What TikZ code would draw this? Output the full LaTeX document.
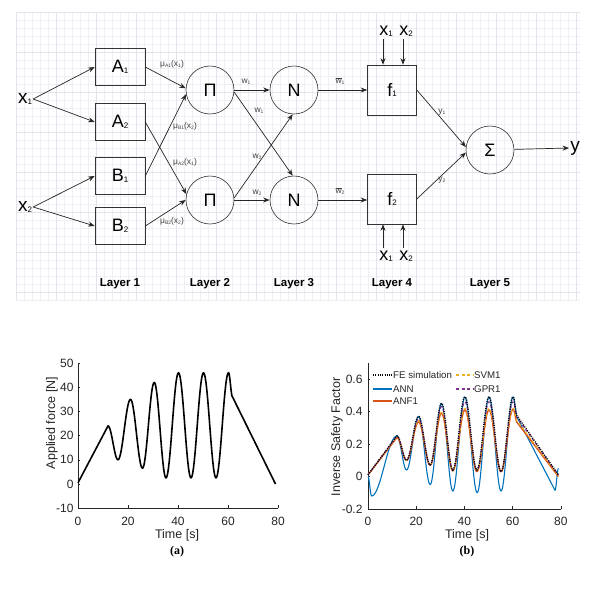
\documentclass[tikz,border=0pt]{standalone}
\usepackage{fontspec}
\setmainfont{Liberation Sans}
\newfontfamily\capfont{Liberation Serif}
\usetikzlibrary{arrows.meta}
\definecolor{gridc}{RGB}{238,239,244}
\definecolor{gridd}{RGB}{226,228,236}
\definecolor{axc}{RGB}{38,38,38}
\definecolor{mblue}{rgb}{0,0.447,0.741}
\definecolor{morange}{rgb}{0.85,0.325,0.098}
\definecolor{myellow}{rgb}{0.929,0.694,0.125}
\definecolor{mpurple}{rgb}{0.494,0.184,0.556}
\newcommand\fs[1]{\fontsize{#1}{#1}\selectfont}
\newcommand\sbig[1]{\raisebox{-0.05em}{\fontsize{8}{8}\selectfont #1}}
\newcommand\ssml[1]{\raisebox{-0.1em}{\fontsize{5}{5}\selectfont #1}}
\begin{document}
\begin{tikzpicture}[x=1pt,y=-1pt,
  arr/.style={-{Stealth[length=6.5pt,width=5pt]}, line width=0.7pt, draw=black!85},
  boxn/.style={draw=black!80, line width=0.6pt, minimum width=50pt, minimum height=37pt, inner sep=0pt, font=\fs{18}},
  circn/.style={draw=black!80, line width=0.6pt, circle, minimum size=48pt, inner sep=0pt, font=\fs{18}},
  lbl/.style={font=\fs{8.5}, text=black!75, inner sep=0pt},
  var/.style={font=\fs{19}, inner sep=1pt},
  layer/.style={font=\bfseries\fs{11.5}},
  tick/.style={font=\fs{12}, text=axc},
  axis/.style={draw=axc, line width=0.6pt},
  fe/.style={draw=black, line width=1.4pt, dash pattern=on 1pt off 1.3pt},
  ann/.style={draw=mblue, line width=1.1pt},
  anf/.style={draw=morange, line width=1.4pt},
  svm/.style={draw=myellow, line width=1.1pt, dash pattern=on 3pt off 2.5pt},
  gpr/.style={draw=mpurple, line width=1.1pt, dash pattern=on 3pt off 2.5pt}]
\useasboundingbox (0,0) rectangle (600,600);
\fill[white] (0,0) rectangle (600,600);
% grid background
\foreach \gx in {16,24,...,580} \draw[gridc, line width=0.4pt] (\gx,12) -- (\gx,300);
\foreach \gy in {12,20,...,300} \draw[gridc, line width=0.4pt] (16,\gy) -- (580,\gy);
\foreach \gx in {16,56,...,576} \draw[gridd, line width=0.5pt] (\gx,12) -- (\gx,300);
\foreach \gy in {12,52,...,292} \draw[gridd, line width=0.5pt] (16,\gy) -- (580,\gy);

% ANFIS diagram
\node[var] (x1) at (25,99) {x\sbig{1}};
\node[var] (x2) at (25,207) {x\sbig{2}};
\node[boxn] (A1) at (120,67) {A\sbig{1}};
\node[boxn] (A2) at (120,122) {A\sbig{2}};
\node[boxn] (B1) at (120,176) {B\sbig{1}};
\node[boxn] (B2) at (120,226) {B\sbig{2}};
\node[circn] (P1) at (210,90) {Π};
\node[circn] (P2) at (210,200) {Π};
\node[circn] (N1) at (294,90) {N};
\node[circn] (N2) at (294,200) {N};
\node[boxn, minimum width=49pt, minimum height=50pt] (F1) at (392,90) {f\sbig{1}};
\node[boxn, minimum width=49pt, minimum height=50pt] (F2) at (392,199) {f\sbig{2}};
\node[circn] (S) at (490,150) {Σ};
\node[var] (yo) at (575,148) {y};

\node[var, font=\fs{18}] (t1) at (386,31) {x\sbig{1}};
\node[var, font=\fs{18}] (t2) at (406,31) {x\sbig{2}};
\node[var, font=\fs{18}] (b1) at (386,256) {x\sbig{1}};
\node[var, font=\fs{18}] (b2) at (406,256) {x\sbig{2}};
\coordinate (t1s) at (383,39);
\coordinate (t2s) at (403,39);
\coordinate (b1s) at (383,248);
\coordinate (b2s) at (403,248);
\draw[arr] (t1s) -- (t1s |- F1.north);
\draw[arr] (t2s) -- (t2s |- F1.north);
\draw[arr] (b1s) -- (b1s |- F2.south);
\draw[arr] (b2s) -- (b2s |- F2.south);

\draw[arr] (x1.east) -- (A1.west);
\draw[arr] (x1.east) -- (A2.west);
\draw[arr] (x2.east) -- (B1.west);
\draw[arr] (x2.east) -- (B2.west);

\draw[arr] (A1.east) -- (P1.176);
\draw[arr] (B1.east) -- (P1.190);
\draw[arr] (A2.east) -- (P2.166);
\draw[arr] (B2.east) -- (P2.180);
\node[lbl] (lA1) at (172,64) {μ\ssml{A1}(x\ssml{1})};
\node[lbl] (lB1) at (185,126) {μ\ssml{B1}(x\ssml{2})};
\node[lbl] (lA2) at (185,162) {μ\ssml{A2}(x\ssml{1})};
\node[lbl] (lB2) at (172,221) {μ\ssml{B2}(x\ssml{2})};

\draw[arr] (P1) -- (N1);
\draw[arr] (P2) -- (N2);
\draw[arr] (P1.-5) -- (N2.93);
\draw[arr] (P2.5) -- (N1.267);
\node[lbl] (w1a) at (246,82) {w\ssml{1}};
\node[lbl] (w1b) at (259,111) {w\ssml{1}};
\node[lbl] (w2b) at (257,157) {w\ssml{2}};
\node[lbl] (w2a) at (257,193) {w\ssml{2}};

\draw[arr] (N1) -- (F1);
\draw[arr] (N2.east) -- (N2.east -| F2.west);
\node[lbl] (wb1) at (340,81) {$\overline{\mbox{w}}$\ssml{1}};
\node[lbl] (wb2) at (340,191) {$\overline{\mbox{w}}$\ssml{2}};

\draw[arr] (F1.east) -- (S.173);
\draw[arr] (F2.east) -- (S.186);
\node[lbl] (ly1) at (442,112) {y\ssml{1}};
\node[lbl] (ly2) at (442,180) {y\ssml{2}};
\draw[arr] (S) -- (yo.west);

\node[layer] (L1) at (120,284) {Layer 1};
\node[layer] (L2) at (210,284) {Layer 2};
\node[layer] (L3) at (294,284) {Layer 3};
\node[layer] (L4) at (392,284) {Layer 4};
\node[layer] (L5) at (490,284) {Layer 5};

% Plot (a)
\begin{scope}[shift={(78,484)}, x=2.5pt, y=2.42pt]
  \draw[axis] (0,50) -- (0,-10) -- (80,-10);
  \foreach \t in {0,20,40,60,80} {
    \draw[axis] (\t,-10) -- ++(0,1.3);
    \node[tick, below=5pt] (ax\t) at (\t,-10) {\t};
  }
  \foreach \v in {-10,0,...,50} {
    \draw[axis] (0,\v) -- ++(0.9,0);
    \node[tick, left=1pt] (ay\v) at (0,\v) {\v};
  }
  \draw[black, line width=1.6pt, line join=round] (0,0.5) -- (12,24)
    \foreach \ta/\va/\tb/\vb in {12/24/16/10, 16/10/21/35, 21/35/25.8/6.5, 25.8/6.5/30.5/42, 30.5/42/35.2/2.5, 35.2/2.5/40.2/46, 40.2/46/45.2/2.5, 45.2/2.5/50.2/46, 50.2/46/55.2/2.5, 55.2/2.5/60.2/46, 60.2/46/61.8/36}
    { -- plot[domain=\ta:\tb, samples=16] (\x, {(\va)+((\vb)-(\va))*(1-cos(180*(\x-(\ta))/((\tb)-(\ta))))/2}) }
    -- (79,0);
\end{scope}
\node[font=\fs{12.5}, text=axc, rotate=90] (ylA) at (52,423) {Applied force [N]};
\node[font=\fs{12.5}, text=axc] (xlA) at (177,535) {Time [s]};
\node[font=\capfont\bfseries\fs{12}] (capA) at (177,552) {(a)};

% Plot (b)
\begin{scope}[shift={(368,476.5)}, x=2.41pt, y=162.5pt]
  \draw[axis] (0,0.698) -- (0,-0.2) -- (80,-0.2);
  \foreach \t in {0,20,40,60,80} {
    \draw[axis] (\t,-0.2) -- ++(0,0.02);
    \node[tick, below=5pt] (bx\t) at (\t,-0.2) {\t};
  }
  \foreach \v/\l [count=\i] in {-0.2/-0.2, 0/0, 0.2/0.2, 0.4/0.4, 0.6/0.6} {
    \draw[axis] (0,\v) -- ++(0.9,0);
    \node[tick, left=2pt] (by\i) at (0,\v) {\l};
  }
  \draw[ann, line join=round] (0,0)
    \foreach \ta/\va/\tb/\vb in {0/0/1.5/-0.12, 1.5/-0.12/12/0.25, 12/0.25/16/0.04, 16/0.04/21/0.37, 21/0.37/25.8/-0.05, 25.8/-0.05/30.5/0.45, 30.5/0.45/35.2/-0.09, 35.2/-0.09/40.2/0.49, 40.2/0.49/45.3/-0.1, 45.3/-0.1/50.2/0.49, 50.2/0.49/55.2/-0.09, 55.2/-0.09/60.2/0.49, 60.2/0.49/62/0.36}
    { -- plot[domain=\ta:\tb, samples=16] (\x, {(\va)+((\vb)-(\va))*(1-cos(180*(\x-(\ta))/((\tb)-(\ta))))/2}) }
    -- (77.6,-0.085)
    \foreach \ta/\va/\tb/\vb in {77.6/-0.085/79/0.05}
    { -- plot[domain=\ta:\tb, samples=8] (\x, {(\va)+((\vb)-(\va))*(1-cos(180*(\x-(\ta))/((\tb)-(\ta))))/2}) };
  \draw[anf, line join=round] (0,0.01) -- (12,0.24)
    \foreach \ta/\va/\tb/\vb in {12/0.24/16/0.10, 16/0.10/21/0.335, 21/0.335/25.8/0.07, 25.8/0.07/30.5/0.39, 30.5/0.39/35.2/0.035, 35.2/0.035/40.2/0.41, 40.2/0.41/45.2/0.03, 45.2/0.03/50.2/0.41, 50.2/0.41/55.2/0.03, 55.2/0.03/60.2/0.415, 60.2/0.415/62/0.33}
    { -- plot[domain=\ta:\tb, samples=16] (\x, {(\va)+((\vb)-(\va))*(1-cos(180*(\x-(\ta))/((\tb)-(\ta))))/2}) }
    -- (79,0.0);
  \draw[svm, line join=round] (0,0.01) -- (12,0.245)
    \foreach \ta/\va/\tb/\vb in {12/0.245/16/0.10, 16/0.10/21/0.345, 21/0.345/25.8/0.07, 25.8/0.07/30.5/0.40, 30.5/0.40/35.2/0.04, 35.2/0.04/40.2/0.42, 40.2/0.42/45.2/0.035, 45.2/0.035/50.2/0.42, 50.2/0.42/55.2/0.035, 55.2/0.035/60.2/0.42, 60.2/0.42/62/0.34}
    { -- plot[domain=\ta:\tb, samples=16] (\x, {(\va)+((\vb)-(\va))*(1-cos(180*(\x-(\ta))/((\tb)-(\ta))))/2}) }
    -- (79,0.005);
  \draw[gpr, line join=round] (0,0.01) -- (12,0.25)
    \foreach \ta/\va/\tb/\vb in {12/0.25/16/0.10, 16/0.10/21/0.355, 21/0.355/25.8/0.07, 25.8/0.07/30.5/0.43, 30.5/0.43/35.2/0.04, 35.2/0.04/40.2/0.46, 40.2/0.46/45.2/0.04, 45.2/0.04/50.2/0.46, 50.2/0.46/55.2/0.03, 55.2/0.03/60.2/0.46, 60.2/0.46/62/0.36}
    { -- plot[domain=\ta:\tb, samples=16] (\x, {(\va)+((\vb)-(\va))*(1-cos(180*(\x-(\ta))/((\tb)-(\ta))))/2}) }
    -- (79,0.01);
  \draw[fe] (0,0.01) -- (12,0.25)
    \foreach \ta/\va/\tb/\vb in {12/0.25/16/0.10, 16/0.10/21/0.37, 21/0.37/25.8/0.07, 25.8/0.07/30.5/0.45, 30.5/0.45/35.2/0.04, 35.2/0.04/40.2/0.49, 40.2/0.49/45.2/0.04, 45.2/0.04/50.2/0.49, 50.2/0.49/55.2/0.03, 55.2/0.03/60.2/0.49, 60.2/0.49/62/0.37}
    { -- plot[domain=\ta:\tb, samples=16] (\x, {(\va)+((\vb)-(\va))*(1-cos(180*(\x-(\ta))/((\tb)-(\ta))))/2}) }
    -- (79,0.01);
\end{scope}
% legend
\coordinate (lg1a) at (373,375); \coordinate (lg1b) at (392,375);
\coordinate (lg2a) at (373,389); \coordinate (lg2b) at (392,389);
\coordinate (lg3a) at (373,401); \coordinate (lg3b) at (392,401);
\coordinate (lg4a) at (456,375); \coordinate (lg4b) at (473,375);
\coordinate (lg5a) at (456,389); \coordinate (lg5b) at (473,389);
\draw[fe] (lg1a) -- (lg1b);
\draw[ann] (lg2a) -- (lg2b);
\draw[anf] (lg3a) -- (lg3b);
\draw[svm] (lg4a) -- (lg4b);
\draw[gpr] (lg5a) -- (lg5b);
\node[font=\fs{9.7}, text=axc, anchor=west, inner sep=1pt] (lt1) at (lg1b) {FE simulation};
\node[font=\fs{9.7}, text=axc, anchor=west, inner sep=1pt] (lt2) at (lg2b) {ANN};
\node[font=\fs{9.7}, text=axc, anchor=west, inner sep=1pt] (lt3) at (lg3b) {ANF1};
\node[font=\fs{9.7}, text=axc, anchor=west, inner sep=1pt] (lt4) at (lg4b) {SVM1};
\node[font=\fs{9.7}, text=axc, anchor=west, inner sep=1pt] (lt5) at (lg5b) {GPR1};
\node[font=\fs{12.5}, text=axc, rotate=90] (ylB) at (337,437) {Inverse Safety Factor};
\node[font=\fs{12.5}, text=axc] (xlB) at (467,535) {Time [s]};
\node[font=\capfont\bfseries\fs{12}] (capB) at (467,552) {(b)};
\end{tikzpicture}
\end{document}
